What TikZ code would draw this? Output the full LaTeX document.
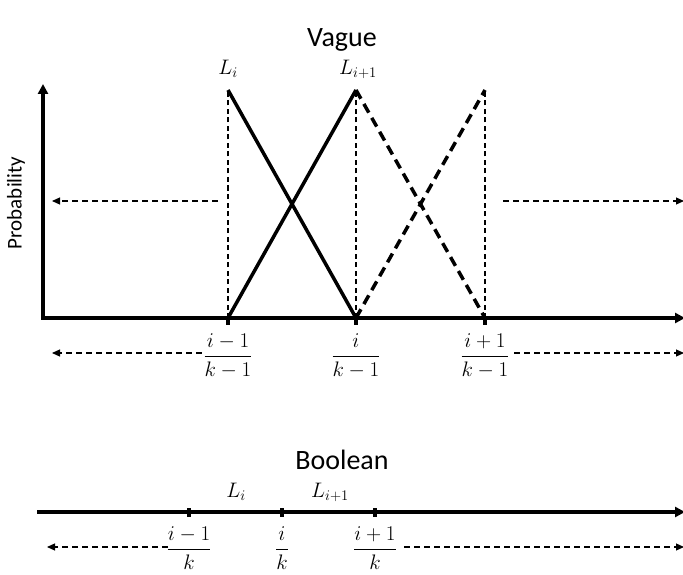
\RequirePackage{fix-cm}
\documentclass[tikz,border=0pt]{standalone}
\usepackage{amsmath}
\usepackage{fontspec}
\setmainfont{Carlito}
\usetikzlibrary{arrows.meta}
\tikzset{
  axis/.style={line width=3.2pt, -{Triangle[length=10pt,width=10pt]}},
  tri/.style={line width=3.5pt},
  tridash/.style={line width=3.5pt, dash pattern=on 10pt off 6pt},
  guide/.style={line width=1.1pt, dash pattern=on 5pt off 3.5pt},
  outarrow/.style={line width=1.1pt, dash pattern=on 6pt off 4pt, -{Triangle[length=8pt,width=7pt]}},
  tickmark/.style={line width=4.5pt},
  lab/.style={font=\fontsize{21}{24}\selectfont},
  ylab/.style={font=\fontsize{21}{24}\selectfont},
  title/.style={font=\fontsize{28}{32}\selectfont}
}
\begin{document}
\begin{tikzpicture}[x=1pt,y=-1pt]
	\useasboundingbox (0,0) rectangle (683,575);

	% Vague
	\node[title] (vague) at (342,40) {Vague};
	\coordinate (o) at (43,318);
	\coordinate (ytop) at (43,84);
	\coordinate (xend) at (685,318);
	\node[ylab, rotate=90] (prob) at (16,203) {Probability};

	\coordinate (a) at (228,318);
	\coordinate (b) at (356,318);
	\coordinate (c) at (485,318);
	\coordinate (pa) at (228,90);
	\coordinate (pb) at (356,90);
	\coordinate (pc) at (485,90);

	\draw[guide] (a) -- (pa);
	\draw[guide] (b) -- (pb);
	\draw[guide] (c) -- (pc);

	\draw[tri] (pa) -- (b);
	\draw[tri] (a) -- (pb);
	\draw[tridash] (pb) -- (c);
	\draw[tridash] (b) -- (pc);

	\draw[axis] (o) -- (ytop);
	\draw[axis] ([xshift=-1.6pt]o) -- (xend);

	\draw[tickmark] (a) -- ++(0,7);
	\draw[tickmark] (b) -- ++(0,7);
	\draw[tickmark] (c) -- ++(0,7);

	\node[lab] (la) at (228,69) {$L_i$};
	\node[lab] (lb) at (358,69) {$L_{i+1}$};

	\coordinate (pl0) at (218,201);
	\coordinate (pl1) at (52,201);
	\coordinate (pr0) at (503,201);
	\coordinate (pr1) at (684,201);
	\draw[outarrow] (pl0) -- (pl1);
	\draw[outarrow] (pr0) -- (pr1);

	\node[lab] (fa) at (228,356) {$\dfrac{i-1}{k-1}$};
	\node[lab] (fb) at (356,356) {$\dfrac{i}{k-1}$};
	\node[lab] (fc) at (485,356) {$\dfrac{i+1}{k-1}$};
	\coordinate (ql1) at (52,353);
	\coordinate (qr1) at (684,353);
	\draw[outarrow] ([xshift=2pt]fa.west |- ql1) -- (ql1);
	\draw[outarrow] ([xshift=1pt]fc.east |- qr1) -- (qr1);

	% Boolean
	\node[title] (bool) at (342,460) {Boolean};
	\coordinate (bo) at (37,512);
	\coordinate (bend) at (685,512);
	\draw[axis] (bo) -- (bend);
	\coordinate (ba) at (189,512);
	\coordinate (bb) at (282,512);
	\coordinate (bc) at (375,512);
	\draw[tickmark] ([yshift=-4.5pt]ba) -- ([yshift=4.5pt]ba);
	\draw[tickmark] ([yshift=-4.5pt]bb) -- ([yshift=4.5pt]bb);
	\draw[tickmark] ([yshift=-4.5pt]bc) -- ([yshift=4.5pt]bc);

	\node[lab] (bla) at (236,492) {$L_i$};
	\node[lab] (blb) at (330,492) {$L_{i+1}$};

	\node[lab] (bfa) at (189,548) {$\dfrac{i-1}{k}$};
	\node[lab] (bfb) at (282,548) {$\dfrac{i}{k}$};
	\node[lab] (bfc) at (375,548) {$\dfrac{i+1}{k}$};
	\coordinate (bl1) at (47,547);
	\coordinate (br1) at (684,547);
	\draw[outarrow] ([xshift=5pt]bfa.west |- bl1) -- (bl1);
	\draw[outarrow] ([xshift=4pt]bfc.east |- br1) -- (br1);
\end{tikzpicture}
\end{document}
